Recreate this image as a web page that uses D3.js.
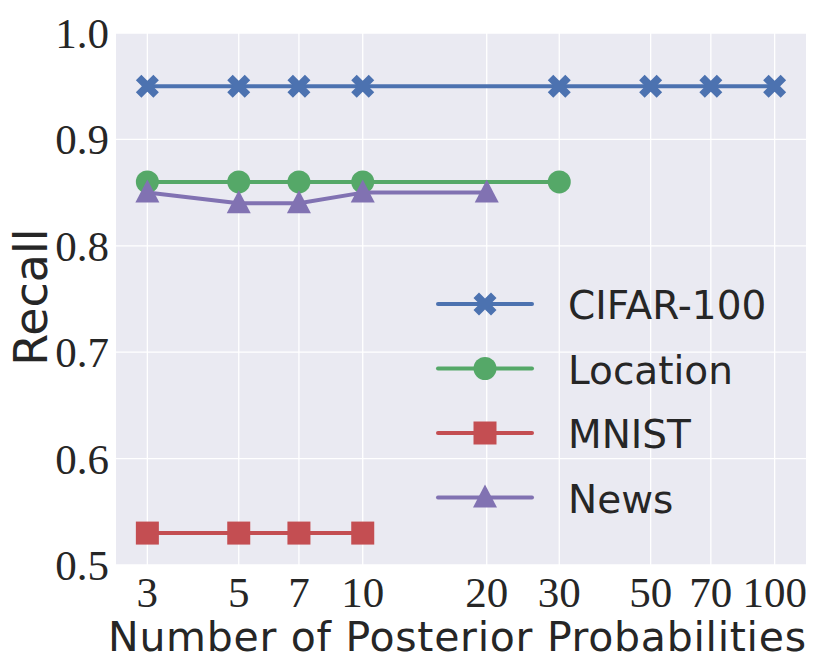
<!DOCTYPE html>
<html>
<head>
<meta charset="utf-8">
<script src="https://cdn.jsdelivr.net/npm/d3@7"></script>
<style>
  body { margin: 0; background: #fff; }
</style>
</head>
<body>
<script>
// data
const xTicks = [3, 5, 7, 10, 20, 30, 50, 70, 100];
const yTicks = [0.5, 0.6, 0.7, 0.8, 0.9, 1.0];

const seriesNames = ["CIFAR-100", "Location", "MNIST", "News"];
const cifarX = [3, 5, 7, 10, 30, 50, 70, 100];
const cifarY = [0.95, 0.95, 0.95, 0.95, 0.95, 0.95, 0.95, 0.95];
const locationX = [3, 5, 7, 10, 30];
const locationY = [0.86, 0.86, 0.86, 0.86, 0.86];
const mnistX = [3, 5, 7, 10];
const mnistY = [0.53, 0.53, 0.53, 0.53];
const newsX = [3, 5, 7, 10, 20];
const newsY = [0.85, 0.84, 0.84, 0.85, 0.85];

const series = [
  { name: seriesNames[0], xs: cifarX, ys: cifarY, color: "#4C72B0", marker: "x" },
  { name: seriesNames[1], xs: locationX, ys: locationY, color: "#55A868", marker: "o" },
  { name: seriesNames[2], xs: mnistX, ys: mnistY, color: "#C44E52", marker: "s" },
  { name: seriesNames[3], xs: newsX, ys: newsY, color: "#8172B2", marker: "^" }
];

const width = 830, height = 664;
const margin = { left: 116, right: 24, top: 33, bottom: 99 };

const svg = d3.select("body").append("svg")
  .attr("width", width).attr("height", height);

// log axis with 5% padding like matplotlib
const lo = Math.log10(3), hi = Math.log10(100), pad = (hi - lo) * 0.05;
const x = d3.scaleLog()
  .domain([Math.pow(10, lo - pad), Math.pow(10, hi + pad)])
  .range([margin.left, width - margin.right]);
const y = d3.scaleLinear()
  .domain([0.5, 1.0])
  .range([height - margin.bottom, margin.top]);

svg.append("rect")
  .attr("x", margin.left).attr("y", margin.top)
  .attr("width", width - margin.left - margin.right)
  .attr("height", height - margin.top - margin.bottom)
  .attr("fill", "#EAEAF2");

const grid = svg.append("g");
grid.selectAll("line.gx").data(xTicks).enter().append("line")
  .attr("x1", d => x(d)).attr("x2", d => x(d))
  .attr("y1", margin.top).attr("y2", height - margin.bottom)
  .attr("stroke", "#fff").attr("stroke-width", 1.3);
grid.selectAll("line.gy").data(yTicks).enter().append("line")
  .attr("y1", d => y(d)).attr("y2", d => y(d))
  .attr("x1", margin.left).attr("x2", width - margin.right)
  .attr("stroke", "#fff").attr("stroke-width", 1.3);

// tick labels
svg.append("g").selectAll("text").data(xTicks).enter().append("text")
  .attr("x", d => x(d)).attr("y", 607)
  .attr("text-anchor", "middle")
  .attr("font-family", "Liberation Serif, serif")
  .attr("font-size", 43)
  .attr("fill", "#262626")
  .text(d => d);

svg.append("g").selectAll("text").data(yTicks).enter().append("text")
  .attr("x", 109).attr("y", d => y(d) + 15)
  .attr("text-anchor", "end")
  .attr("font-family", "Liberation Serif, serif")
  .attr("font-size", 43)
  .attr("fill", "#262626")
  .text(d => d.toFixed(1));

// axis labels
svg.append("text")
  .attr("x", (margin.left + width - margin.right) / 2 - 4).attr("y", 651)
  .attr("text-anchor", "middle")
  .attr("font-family", "DejaVu Sans, sans-serif")
  .attr("font-size", 41)
  .attr("fill", "#262626")
  .attr("textLength", 698)
  .text("Number of Posterior Probabilities");

svg.append("text")
  .attr("transform", `translate(47, ${(margin.top + height - margin.bottom) / 2 - 2}) rotate(-90)`)
  .attr("text-anchor", "middle")
  .attr("font-family", "DejaVu Sans, sans-serif")
  .attr("font-size", 46)
  .attr("fill", "#262626")
  .text("Recall");

function drawMarker(g, type, color) {
  if (type === "o") {
    g.append("circle").attr("r", 11.5).attr("fill", color);
  } else if (type === "s") {
    g.append("rect").attr("x", -11.5).attr("y", -11.5).attr("width", 23).attr("height", 23).attr("fill", color);
  } else if (type === "^") {
    g.append("path").attr("d", "M0,-13 L12,10 L-12,10 Z").attr("fill", color);
  } else if (type === "x") {
    const a = 11.5, b = 5.5;
    g.append("path")
      .attr("d", `M${-a},${-a + b} L${-a + b},${-a} L0,${-b} L${a - b},${-a} L${a},${-a + b} L${b},0 L${a},${a - b} L${a - b},${a} L0,${b} L${-a + b},${a} L${-a},${a - b} L${-b},0 Z`)
      .attr("fill", color);
  }
}

const line = d3.line().x(d => x(d[0])).y(d => y(d[1]));
const plot = svg.append("g");
series.forEach(s => {
  const pts = s.xs.map((v, i) => [v, s.ys[i]]);
  plot.append("path").datum(pts)
    .attr("d", line)
    .attr("fill", "none")
    .attr("stroke", s.color)
    .attr("stroke-width", 4)
    .attr("stroke-linecap", "round")
    .attr("stroke-linejoin", "round");
  pts.forEach(p => {
    const g = plot.append("g").attr("transform", `translate(${x(p[0])},${y(p[1])})`);
    drawMarker(g, s.marker, s.color);
  });
});

// legend (no frame)
const legend = svg.append("g");
series.forEach((s, i) => {
  const ly = 304 + i * 64.5;
  legend.append("line")
    .attr("x1", 438).attr("x2", 532).attr("y1", ly).attr("y2", ly)
    .attr("stroke", s.color).attr("stroke-width", 4).attr("stroke-linecap", "round");
  const g = legend.append("g").attr("transform", `translate(485,${ly})`);
  drawMarker(g, s.marker, s.color);
  legend.append("text")
    .attr("x", 568).attr("y", ly + 15)
    .attr("font-family", "DejaVu Sans, sans-serif")
    .attr("font-size", 39)
    .attr("fill", "#262626")
    .text(s.name);
});
</script>
</body>
</html>
